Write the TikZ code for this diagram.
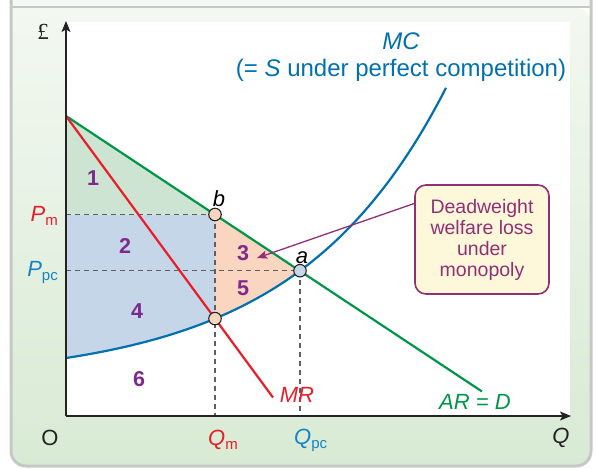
\documentclass[tikz,border=0pt]{standalone}
\usepackage{fontspec}
\setmainfont{Liberation Sans}
\newfontfamily\poundfont{Liberation Serif}
\usetikzlibrary{arrows.meta}
\definecolor{framegray}{RGB}{198,200,198}
\definecolor{stripcol}{RGB}{244,247,243}
\definecolor{paneltop}{RGB}{243,248,241}
\definecolor{panelbot}{RGB}{216,234,212}
\definecolor{argreen}{RGB}{0,150,72}
\definecolor{mrred}{RGB}{232,30,40}
\definecolor{mcblue}{RGB}{0,112,176}
\definecolor{pcblue}{RGB}{20,132,198}
\definecolor{greenfill}{RGB}{205,228,211}
\definecolor{bluefill}{RGB}{197,214,233}
\definecolor{salmonfill}{RGB}{250,213,192}
\definecolor{numpurple}{RGB}{125,42,140}
\definecolor{dwcol}{RGB}{146,48,118}
\definecolor{dwfill}{RGB}{254,248,218}
\definecolor{dashgray}{RGB}{95,95,95}
\definecolor{axisblack}{RGB}{35,35,35}
\tikzset{
  curve/.style={line width=2.2pt},
  guide/.style={dashgray, line width=1.2pt, dash pattern=on 5pt off 4pt},
  axisline/.style={axisblack, line width=1.3pt, -{Stealth[length=11pt,width=9pt,inset=2.5pt]}},
  ptnode/.style={circle, draw=axisblack, line width=1.1pt, minimum size=12.5pt, inner sep=0pt},
  lab/.style={inner sep=0pt, font=\fontsize{22}{26}\selectfont},
  num/.style={inner sep=0pt, text=numpurple, font=\fontsize{21.5}{24}\selectfont\bfseries},
  callout/.style={draw=dwcol, line width=1.6pt, fill=dwfill, rounded corners=11pt,
    minimum width=134pt, minimum height=109pt, inner sep=0pt, align=center,
    text=dwcol, font=\fontsize{19.5}{21}\selectfont},
  calloutarrow/.style={dwcol, line width=1.3pt, -{Stealth[length=10pt,width=8pt,inset=2pt]}}
}
\newcommand\subl[1]{\raisebox{-4pt}{\fontsize{15}{15}\selectfont #1}}
\begin{document}
\begin{tikzpicture}[x=1pt,y=-1pt]
\useasboundingbox (0,0) rectangle (596,468);
\fill[white] (0,0) rectangle (596,468);
% frame
\fill[stripcol] (11,0) rectangle (591,8);
\shade[top color=paneltop, bottom color=panelbot, rounded corners=15pt]
  (11,8) -- (11,466) -- (591,466) -- (591,8) [sharp corners] -- cycle;
\draw[framegray, line width=3pt, rounded corners=15pt] (11,-3) -- (11,466) -- (591,466) -- (591,-3);
\draw[framegray, line width=2pt] (11,7.5) -- (591,7.5);
\fill[white] (66,22) rectangle (570,416);
% key coordinates
\coordinate (O) at (66,416);
\coordinate (ytop) at (66,21);
\coordinate (xend) at (571,416);
\coordinate (yint) at (66,116);
\coordinate (b) at (215,214.5);
\coordinate (c) at (215,318.6);
\coordinate (a) at (300,270.7);
\coordinate (pm) at (66,214.5);
\coordinate (ppc) at (66,270.7);
\coordinate (qm) at (215,416);
\coordinate (qpc) at (300,416);
\coordinate (arend) at (482,391.5);
\coordinate (mrend) at (273,397.5);
% shaded areas
\fill[greenfill] (yint) -- (b) -- (pm) -- cycle;
\fill[bluefill] (pm) -- (b) -- (c) -- plot[domain=215:66, samples=40] (\x,{358-23*(exp(0.0067*(\x-66))-1)}) -- cycle;
\fill[salmonfill] (b) -- (a) -- plot[domain=300:215, samples=30] (\x,{358-23*(exp(0.0067*(\x-66))-1)}) -- cycle;
% guides
\draw[guide] (pm) -- (b);
\draw[guide] (ppc) -- (a);
\draw[guide] (b) -- (qm);
\draw[guide] (a) -- (qpc);
% curves
\draw[curve, argreen] (yint) -- (arend);
\draw[curve, mrred] (yint) -- (mrend);
\draw[curve, mcblue] plot[domain=66:446, samples=90, smooth] (\x,{358-23*(exp(0.0067*(\x-66))-1)});
% axes
\draw[axisline] (O) -- (ytop);
\draw[axisline] (O) -- (xend);
% points
\node[ptnode, fill=salmonfill] (nb) at (b) {};
\node[ptnode, fill=salmonfill] (nc) at (c) {};
\node[ptnode, fill=bluefill] (na) at (a) {};
% point labels
\node[lab] (lb) at (219,199) {\textit{b}};
\node[lab] (la) at (302,258) {\textit{a}};
% region numbers
\node[num] (n1) at (93,178) {1};
\node[num] (n2) at (125,246) {2};
\node[num] (n3) at (243,253) {3};
\node[num] (n5) at (243,288) {5};
\node[num] (n4) at (137,311) {4};
\node[num] (n6) at (139,379) {6};
% axis labels
\node[inner sep=0pt, font=\poundfont\fontsize{23}{26}\selectfont, text=axisblack] (pound) at (43,32) {£};
\node[lab, text=axisblack] (lO) at (50,438) {O};
\node[lab, text=axisblack] (lQ) at (561,438) {\textit{Q}};
\node[lab, text=mrred, anchor=east] (lpm) at (58,216) {\textit{P}\subl{m}};
\node[lab, text=pcblue, anchor=east] (lppc) at (58,272) {\textit{P}\subl{pc}};
\node[lab, text=mrred, anchor=west] (lqm) at (208,440) {\textit{Q}\subl{m}};
\node[lab, text=pcblue, anchor=west] (lqpc) at (294,440) {\textit{Q}\subl{pc}};
% curve labels
\node[lab, text=mrred] (lmr) at (297,395) {\textit{MR}};
\node[lab, text=argreen] (lar) at (475,402) {\textit{AR = D}};
\node[inner sep=0pt, font=\fontsize{24}{27}\selectfont, text=mcblue, align=center] (lmc) at (401,57) {\textit{MC}\\(= \textit{S} under perfect competition)};
% callout
\node[callout] (dw) at (482,239.5) {Deadweight\\welfare loss\\under\\monopoly};
\coordinate (dwtip) at (257,258);
\draw[calloutarrow] ([yshift=36pt]dw.west) -- (dwtip);
\end{tikzpicture}
\end{document}
